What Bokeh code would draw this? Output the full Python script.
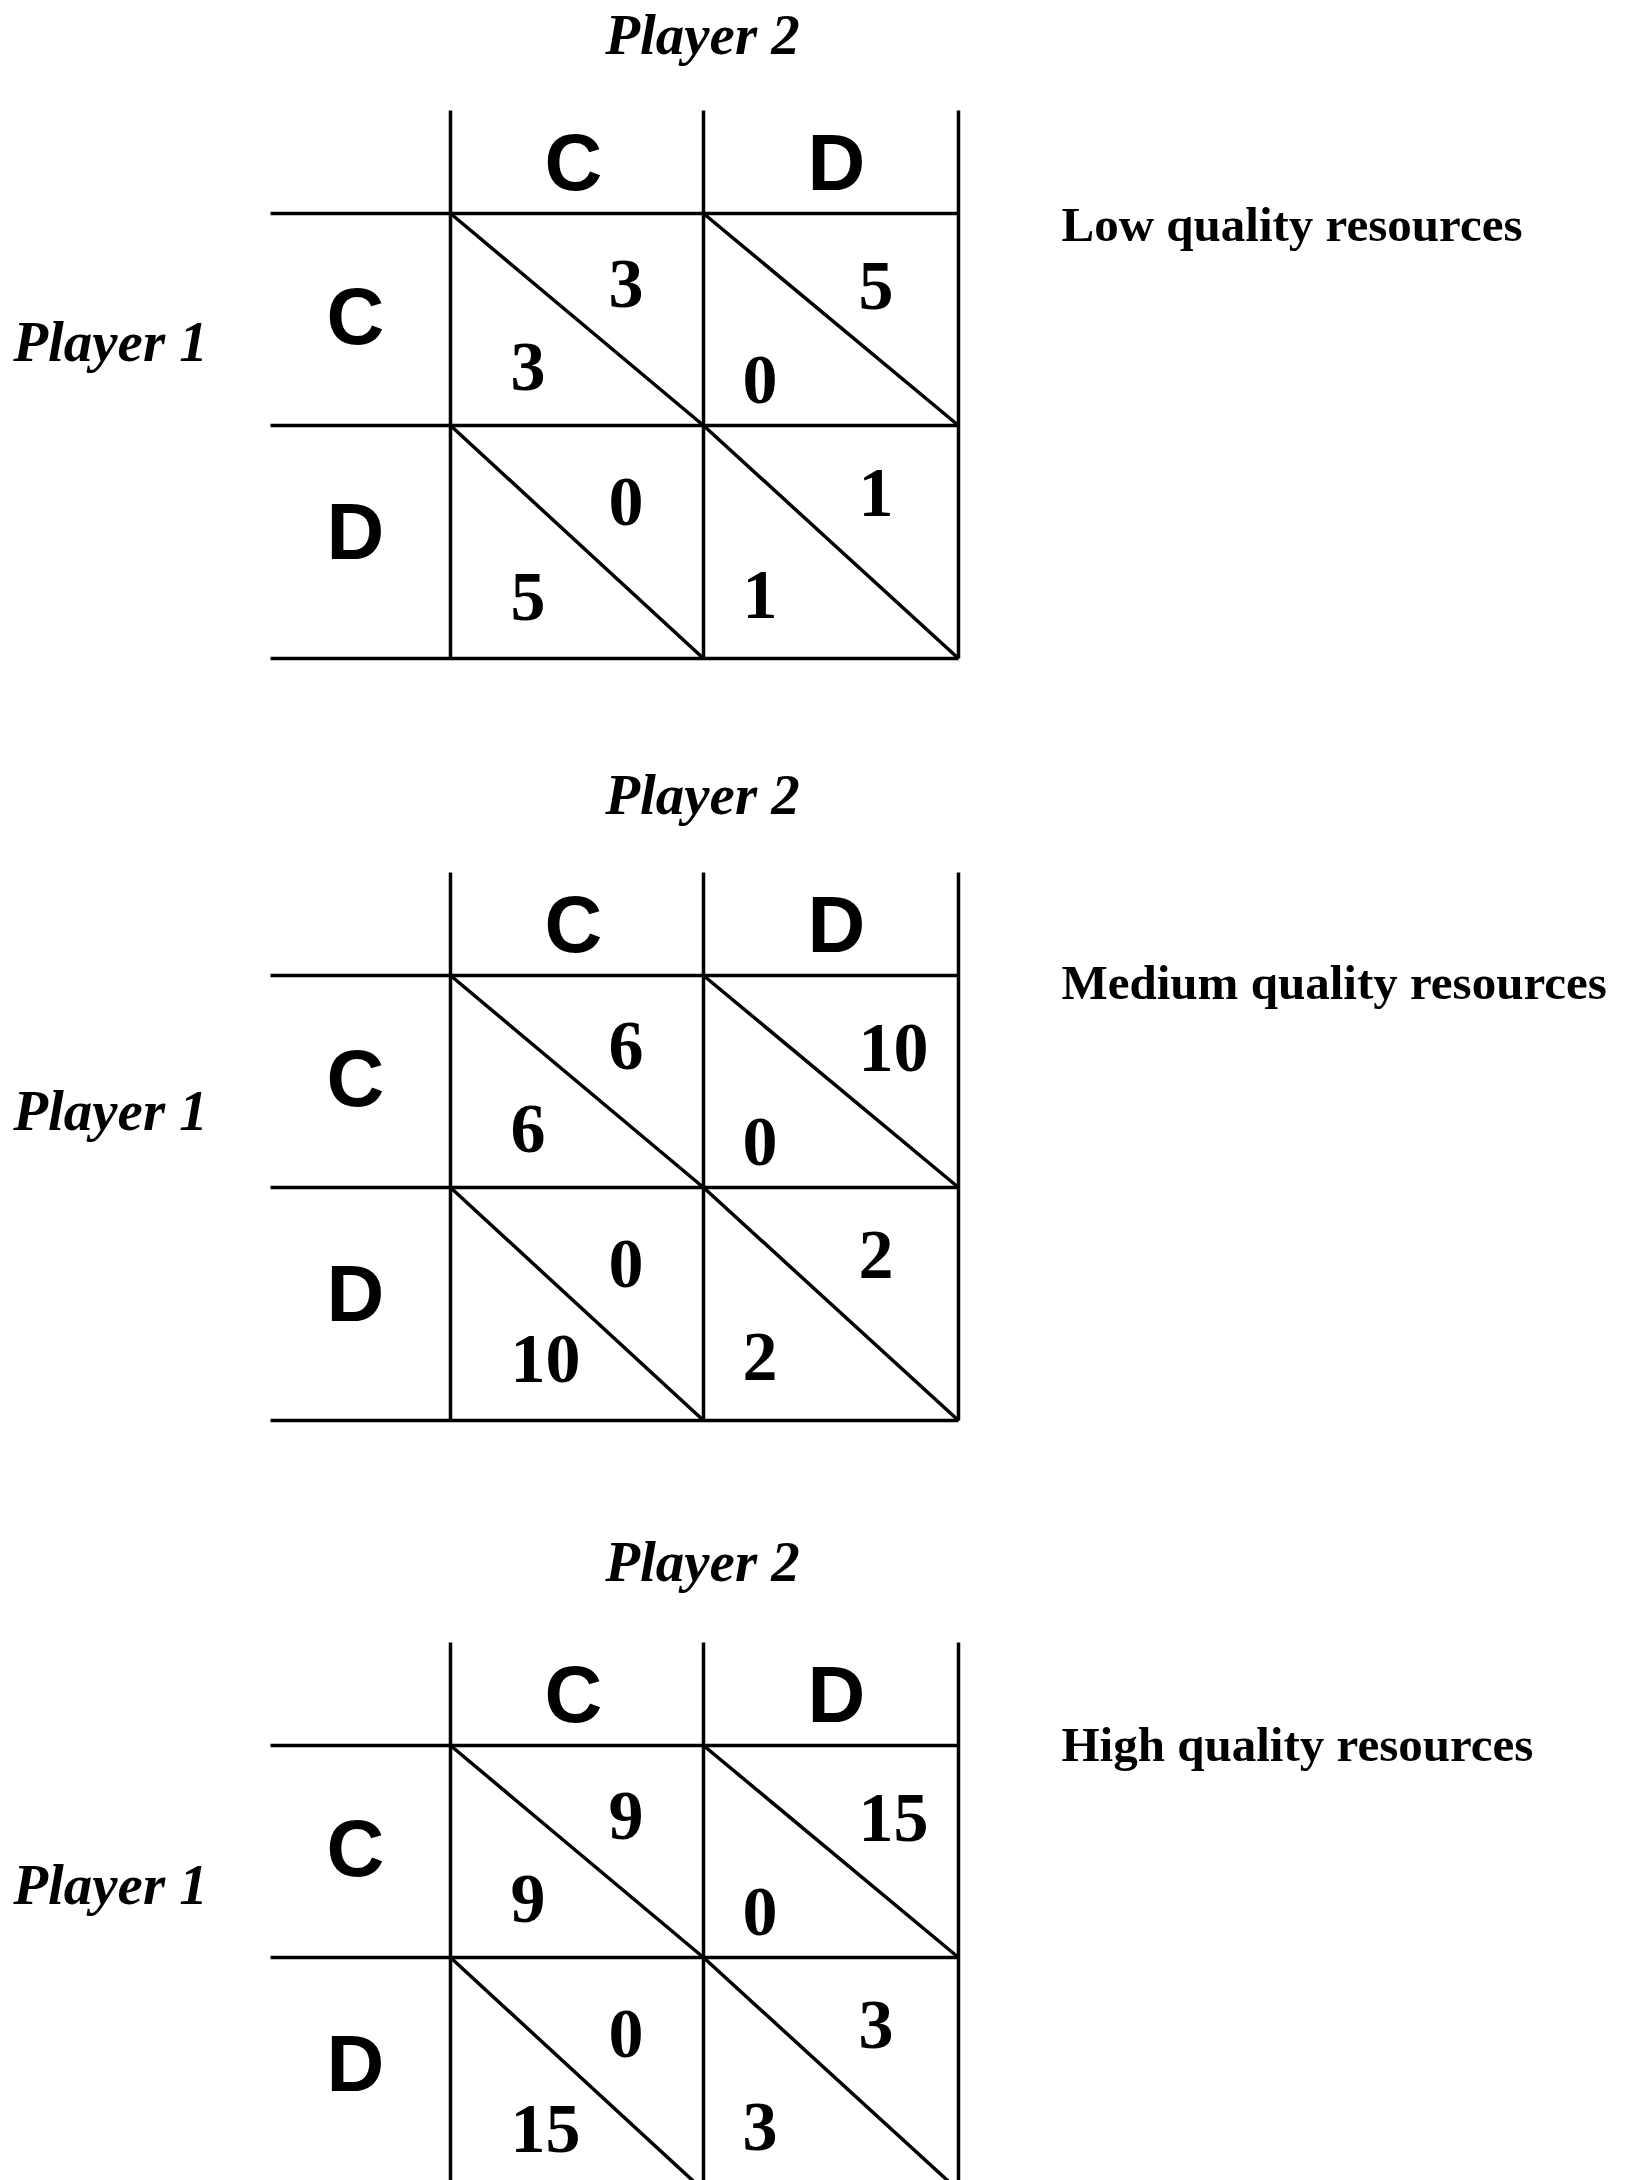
from bokeh.plotting import figure
from bokeh.models import Range1d, ColumnDataSource
from bokeh.core.properties import value
from bokeh.embed import file_html
from bokeh.resources import INLINE

# ---------------- data ----------------
strategies = ["C", "D"]
qualities = ["Low quality resources", "Medium quality resources", "High quality resources"]
player_labels = ["Player 1", "Player 2"]
# payoff[panel][row = Player 1 strategy][col = Player 2 strategy]
p1_payoffs = [
    [[3, 0], [5, 1]],
    [[6, 0], [10, 2]],
    [[9, 0], [15, 3]],
]
p2_payoffs = [
    [[3, 5], [0, 1]],
    [[6, 10], [0, 2]],
    [[9, 15], [0, 3]],
]

# ---------------- layout (screen px) ----------------
PANEL_DY = [0, 762, 1532]
COL_X = [450, 703, 958]
ROW_Y = [213, 425, 658]
GRID_TOP = 110
GRID_LEFT = 270
HEADER_X = [573, 836]
HEADER_Y = 162
ROW_LABEL_X = 355
ROW_LABEL_Y = [316, 531]
P2_X, P2_Y = 702, [34, 794, 1561]
P1_X, P1_Y = 110, [341, 1110, 1884]
RIGHT_X, RIGHT_Y = 1061, [224, 982, 1744]
UP_DX = [158, 155]
UP_DY = [[70, 72], [76, 67]]
LO_DX = [60, 39]
LO_DY = [[153, 166], [171, 169]]

W, H = 1630, 2180
p = figure(width=W, height=H, x_range=Range1d(0, W), y_range=Range1d(H, 0),
           output_backend="svg", toolbar_location=None, min_border=0)
p.axis.visible = False
p.xgrid.visible = False
p.ygrid.visible = False
p.outline_line_color = None
p.background_fill_color = "white"
p.border_fill_color = "white"

seg = dict(x0=[], y0=[], x1=[], y1=[])
def add(x0, y0, x1, y1):
    seg["x0"].append(x0); seg["y0"].append(y0); seg["x1"].append(x1); seg["y1"].append(y1)

serif = value("Liberation Serif")
sans = value("Liberation Sans")

titles = dict(x=[], y=[], t=[])
right = dict(x=[], y=[], t=[])
heads = dict(x=[], y=[], t=[])
up = dict(x=[], y=[], t=[])
lo = dict(x=[], y=[], t=[])

for k, dy in enumerate(PANEL_DY):
    for x in COL_X:
        add(x, GRID_TOP + dy, x, ROW_Y[-1] + dy)
    for y in ROW_Y:
        add(GRID_LEFT, y + dy, COL_X[-1], y + dy)
    for r in range(2):
        for c in range(2):
            xl, xr = COL_X[c], COL_X[c + 1]
            yt, yb = ROW_Y[r] + dy, ROW_Y[r + 1] + dy
            add(xl, yt, xr, yb)
            up["x"].append(xl + UP_DX[c]); up["y"].append(yt + UP_DY[r][c])
            up["t"].append(str(p2_payoffs[k][r][c]))
            lo["x"].append(xl + LO_DX[c]); lo["y"].append(yt + LO_DY[r][c])
            lo["t"].append(str(p1_payoffs[k][r][c]))
    for c, s in enumerate(strategies):
        heads["x"].append(HEADER_X[c]); heads["y"].append(HEADER_Y + dy); heads["t"].append(s)
        heads["x"].append(ROW_LABEL_X); heads["y"].append(ROW_LABEL_Y[c] + dy); heads["t"].append(s)
    titles["x"].append(P2_X); titles["y"].append(P2_Y[k]); titles["t"].append(player_labels[1])
    titles["x"].append(P1_X); titles["y"].append(P1_Y[k]); titles["t"].append(player_labels[0])
    right["x"].append(RIGHT_X); right["y"].append(RIGHT_Y[k]); right["t"].append(qualities[k])

p.segment(x0="x0", y0="y0", x1="x1", y1="y1", source=ColumnDataSource(seg),
          line_color="black", line_width=3.5)

p.text(x="x", y="y", text="t", source=ColumnDataSource(titles), text_font=serif,
       text_font_style="bold italic", text_font_size="57px", text_align="center",
       text_baseline="middle", text_color="black")
p.text(x="x", y="y", text="t", source=ColumnDataSource(right), text_font=serif,
       text_font_style="bold", text_font_size="49px", text_align="left",
       text_baseline="middle", text_color="black")
p.text(x="x", y="y", text="t", source=ColumnDataSource(heads), text_font=sans,
       text_font_style="bold", text_font_size="80px", text_align="center",
       text_baseline="middle", text_color="black")
for src in (up, lo):
    p.text(x="x", y="y", text="t", source=ColumnDataSource(src), text_font=serif,
           text_font_style="bold", text_font_size="70px", text_align="left",
           text_baseline="middle", text_color="black")

open("out.html", "w").write(file_html(p, INLINE))
